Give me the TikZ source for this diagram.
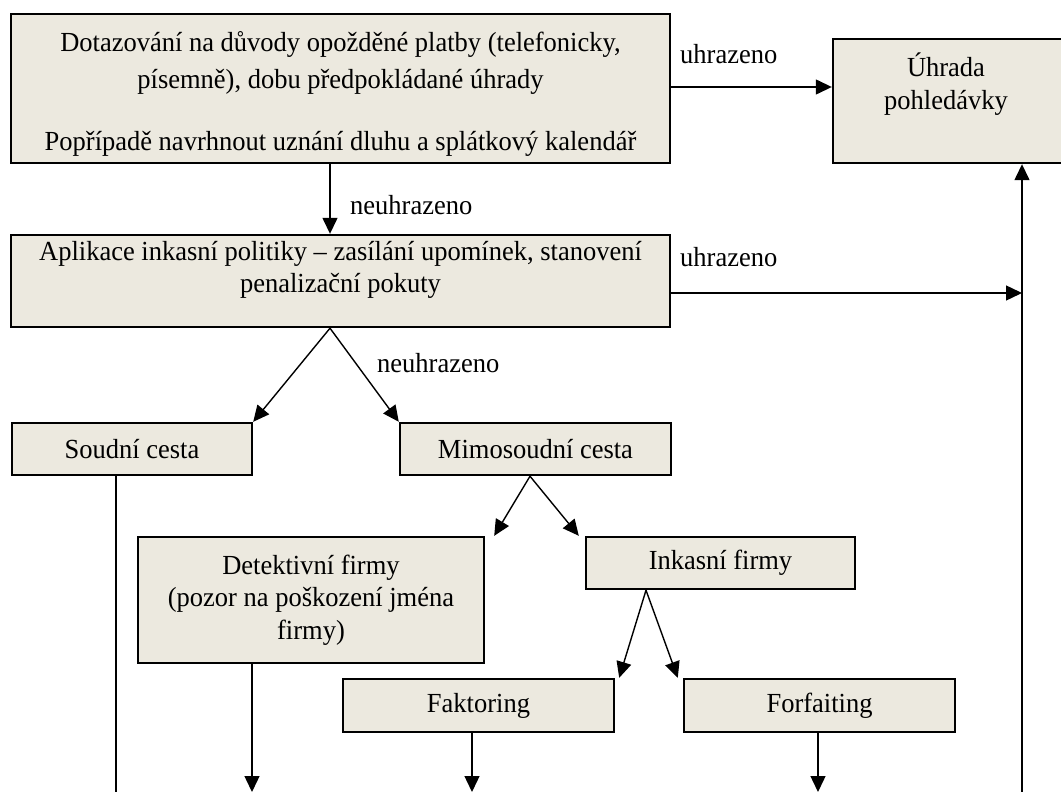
\documentclass[tikz,border=0pt]{standalone}
\usepackage{fontspec}
\setmainfont[FakeStretch=0.96]{Liberation Serif}
\usetikzlibrary{arrows.meta,calc}
\definecolor{boxfill}{RGB}{236,233,223}
\newcommand\myfsz{\fontsize{27.6}{32.5}\selectfont}
\begin{document}
\begin{tikzpicture}[x=1pt,y=-1pt,
  box/.style={draw=black, line width=2.4pt, fill=boxfill, rectangle, inner sep=0pt, font=\myfsz, align=center},
  txt/.style={inner sep=0pt, font=\myfsz, align=center},
  lbl/.style={inner sep=0pt, font=\myfsz, anchor=west},
  arr/.style={line width=1.4pt, -{Triangle[length=16pt,width=15pt]}},
  ln/.style={line width=1.4pt}]
\useasboundingbox (0,0) rectangle (1061,792);

% boxes
\node[box, minimum width=659pt, minimum height=149pt] (b1) at (340.5,88.5) {};
\node[txt] (b1t) at (340.5,94) {Dotazování na důvody opožděné platby (telefonicky,\\[4.5pt]
písemně), dobu předpokládané úhrady\\[29.5pt]
Popřípadě navrhnout uznání dluhu a splátkový kalendář};

\node[box, minimum width=659pt, minimum height=92pt] (b2) at (340.5,281) {};
\node[txt] (b2t) at (340.5,270) {Aplikace inkasní politiky – zasílání upomínek, stanovení\\penalizační pokuty};

\node[box, minimum width=230pt, minimum height=124pt] (uhr) at (948,101) {};
\node[txt] (uhrt) at (946,84) {Úhrada\\pohledávky};

\node[box, minimum width=240pt, minimum height=52pt] (soud) at (132,449) {Soudní cesta};
\node[box, minimum width=271pt, minimum height=52pt] (mimo) at (535.5,449) {Mimosoudní cesta};
\node[box, minimum width=346pt, minimum height=126pt] (det) at (311,600) {Detektivní firmy\\(pozor na poškození jména\\firmy)};
\node[box, minimum width=269pt, minimum height=52pt] (ink) at (720.5,563) {Inkasní firmy};
\node[box, minimum width=271pt, minimum height=53pt] (fak) at (478.5,705.5) {Faktoring};
\node[box, minimum width=271pt, minimum height=53pt] (for) at (819.5,705.5) {Forfaiting};

% bottom ends
\coordinate (rv) at (1022,792);
\coordinate (soudB) at (116,792);
\coordinate (detB) at (252,792);
\coordinate (fakB) at (472,792);
\coordinate (forB) at (818,792);

% connectors
\draw[arr] ([xshift=-10.5pt]b1.south) -- ([xshift=-10.5pt]b2.north);
\draw[arr] ([yshift=1.5pt]b1.east) -- ([yshift=1.5pt]b1.east -| uhr.west);
\draw[arr] (rv) -- (rv |- uhr.south);
\draw[arr] ([yshift=-12pt]b2.east) -- ([yshift=-12pt]b2.east -| rv);

\draw[arr] ([xshift=-10.5pt]b2.south) -- (soud.north east);
\draw[arr] ([xshift=-10.5pt]b2.south) -- (mimo.north west);

\draw[arr] ([xshift=-5.5pt]mimo.south) -- ([xshift=9pt]det.north east);
\draw[arr] ([xshift=-5.5pt]mimo.south) -- ([xshift=-6pt]ink.north west);

\draw[arr] ([xshift=-74.5pt]ink.south) -- ([xshift=4pt]fak.north east);
\draw[arr] ([xshift=-74.5pt]ink.south) -- ([xshift=-5pt]for.north west);

\draw[ln] (soud.south -| soudB) -- (soudB);
\draw[arr] (det.south -| detB) -- (detB);
\draw[arr] (fak.south -| fakB) -- (fakB);
\draw[arr] (for.south -| forB) -- (forB);

% labels
\node[lbl] (l1) at (680,54) {uhrazeno};
\node[lbl] (l2) at (680,257) {uhrazeno};
\node[lbl] (l3) at (350,205) {neuhrazeno};
\node[lbl] (l4) at (377,363) {neuhrazeno};
\end{tikzpicture}
\end{document}
